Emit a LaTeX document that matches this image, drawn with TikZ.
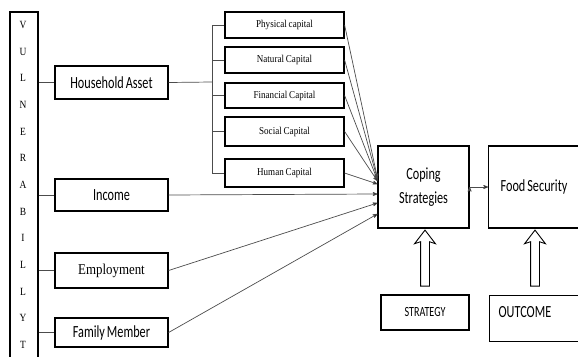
\documentclass[tikz,border=0pt]{standalone}
\usepackage{fontspec}
\setmainfont{Carlito}
\newfontfamily\narrowsans[FakeStretch=0.72, WordSpace=0.72]{Carlito}
\newfontfamily\narrowserif[FakeStretch=0.86, WordSpace=0.86]{Liberation Serif}
\usetikzlibrary{arrows, positioning, shapes.arrows, calc}
\tikzset{
  box/.style={draw, line width=1.2pt, inner sep=0pt},
  sbox/.style={box, font=\narrowsans\fontsize{17}{17}\selectfont},
  capbox/.style={box, minimum width=119pt, font=\narrowserif\fontsize{10.5}{10.5}\selectfont},
  conn/.style={line width=0.7pt, draw=black!70},
  hollow/.style={single arrow, draw, line width=0.9pt, rotate=90, inner xsep=0pt,
    inner ysep=4pt, minimum height=56pt, minimum width=20pt, single arrow head extend=6pt,
    single arrow head indent=2pt, single arrow tip angle=75}
}
\begin{document}
\begin{tikzpicture}[x=1pt, y=-1pt, >=stealth']
\useasboundingbox (0,0) rectangle (578,356);
\clip (0,0) rectangle (578,356);

% vulnerability column
\node[box, minimum width=28pt, minimum height=380pt] (vul) at (24,202) {};
\foreach \l [count=\i from 0] in {V,U,L,N,E,R,A,B,I,L,L,Y,T}
  \node[font=\narrowserif\fontsize{11}{11}\selectfont] (l\i) at (23,25+26.67*\i) {\l};

% household level
\node[sbox, minimum width=113pt, minimum height=33pt] (asset) at (111.5,82.5) {Household Asset};
\node[sbox, minimum width=113pt, minimum height=32pt] (income) at (111.5,195) {Income};
\node[box, minimum width=113pt, minimum height=35pt,
      font=\narrowserif\fontsize{15}{15}\selectfont] (employ) at (111.5,270.5) {Employment};
\node[sbox, minimum width=113pt, minimum height=29pt] (family) at (111.5,332.5) {Family Member};

% capitals
\node[capbox, minimum height=26pt] (phys) at (284.5,25) {Physical capital};
\node[capbox, minimum height=26pt] (nat) at (284.5,60) {Natural Capital};
\node[capbox, minimum height=25pt] (fin) at (284.5,95.5) {Financial Capital};
\node[capbox, minimum height=29pt] (soc) at (284.5,131.5) {Social Capital};
\node[capbox, minimum height=28pt] (hum) at (284.5,173) {Human Capital};
\coordinate (fork) at (212,82);

% right part
\node[sbox, minimum width=91pt, minimum height=82pt, align=center,
      font=\narrowsans\fontsize{17}{24}\selectfont] (coping) at (423.5,187) {Coping\\Strategies};
\node[sbox, anchor=west, minimum height=82pt, text width=90pt, align=flush left,
      inner xsep=12pt] (food) at (488,187) {Food Security};
\node[sbox, minimum width=88pt, minimum height=35pt,
      font=\narrowsans\fontsize{14}{14}\selectfont] (strat) at (425,312.5) {STRATEGY};
\node[sbox, anchor=north west, text width=90pt, align=flush left, inner xsep=9pt,
      inner ysep=4pt, text height=17.5pt, text depth=20.5pt] (outcome) at (489,295) {OUTCOME};
\node[hollow] (up1) at (425,261) {};
\node[hollow] (up2) at (535,261) {};

% plain links
\draw[conn] (vul.east |- asset) -- (asset.west);
\draw[conn] (vul.east |- income) -- (income.west);
\draw[conn] (vul.east |- employ) -- (employ.west);
\draw[conn] (vul.east |- family) -- (family.west);
\draw[conn] (asset.east) -- (fork);
\draw[conn] (fork |- phys) -- (fork |- hum);
\foreach \c in {phys,nat,fin,soc,hum}
  \draw[conn] (fork |- \c) -- (\c.west);

\path[->, conn]
    (phys.east) edge ([yshift=9pt]coping.west)
    (nat.east) edge ([yshift=8pt]coping.west)
    (fin.east) edge ([yshift=7pt]coping.west)
    (soc.east) edge ([yshift=6pt]coping.west)
    (hum.east) edge ([yshift=3pt]coping.west)
    (income.east) edge ([yshift=-7pt]coping.west)
    (employ.east) edge ([yshift=-16pt]coping.west)
    (family.east) edge ([yshift=-27pt]coping.west)
    (coping.east) edge (food.west);
\end{tikzpicture}
\end{document}
